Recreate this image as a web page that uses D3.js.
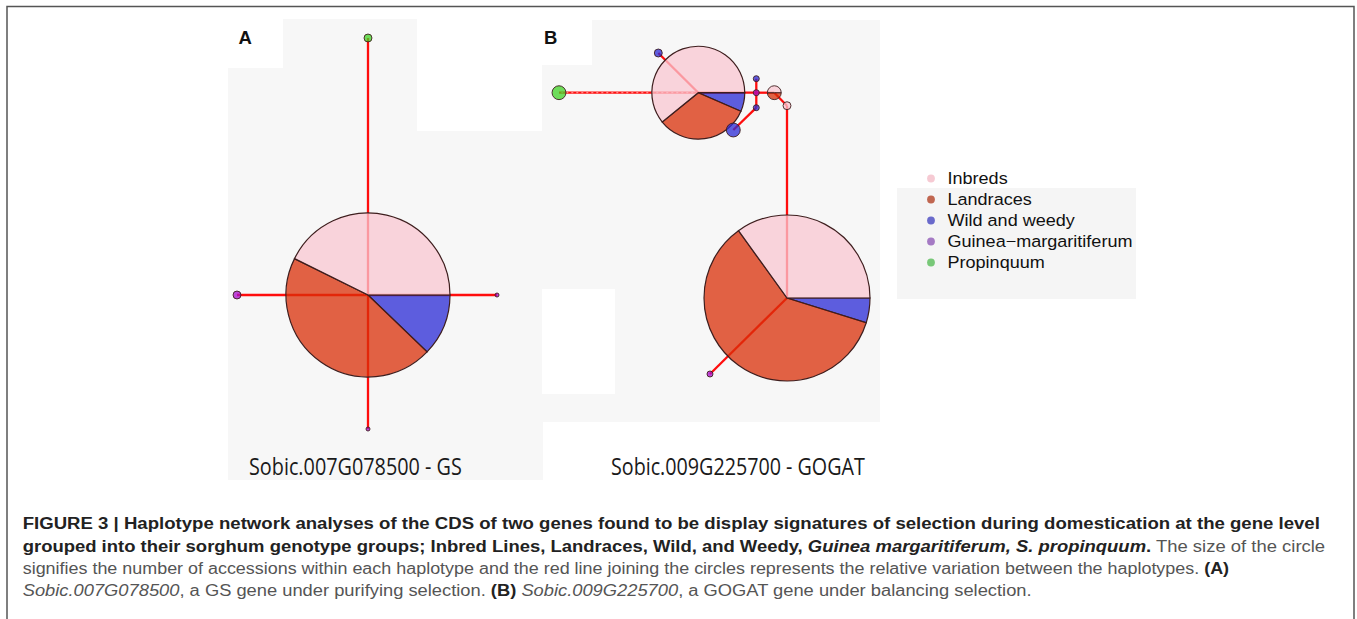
<!DOCTYPE html>
<html>
<head>
<meta charset="utf-8">
<script src="https://cdn.jsdelivr.net/npm/d3@7"></script>
<style>
  html, body { margin: 0; padding: 0; background: #ffffff; }
  svg { display: block; }
</style>
</head>
<body>
<svg id="chart" width="1357" height="619"></svg>
<script>
// ---------------- DATA ----------------
// pie slice order (clockwise from east)
const categories = ["Wild", "Landraces", "Inbreds", "Guinea", "Propinquum"];
const legendKeys = ["Inbreds", "Landraces", "Wild", "Guinea", "Propinquum"];
const legendLabels = ["Inbreds", "Landraces", "Wild and weedy", "Guinea\u2212margaritiferum", "Propinquum"];

// Panel A haplotypes: layout coordinates (network units) and accession counts
const nodesA = [
  { id: "A1", x: 0,     y: 0,     Inbreds: 35, Landraces: 37, Wild: 10 },
  { id: "A2", x: 0,     y: -25.7, Propinquum: 3 },
  { id: "A3", x: -13.1, y: 0,     Guinea: 3 },
  { id: "A4", x: 12.9,  y: 0,     Guinea: 1 },
  { id: "A5", x: 0,     y: 13.4,  Guinea: 1 }
];
const edgesA = [
  { s: "A1", t: "A2", steps: 0 },
  { s: "A1", t: "A3", steps: 0 },
  { s: "A1", t: "A4", steps: 0 },
  { s: "A1", t: "A5", steps: 0 }
];

// Panel B haplotypes
const nodesB = [
  { id: "B1",  x: 0,      y: 0,      Inbreds: 29, Landraces: 50, Wild: 4 },
  { id: "B2",  x: -8.87,  y: -20.53, Inbreds: 28, Landraces: 15, Wild: 3 },
  { id: "B3",  x: -22.8,  y: -20.53, Propinquum: 6 },
  { id: "B4",  x: -12.87, y: -24.5,  Wild: 3 },
  { id: "B5",  x: -3.07,  y: -20.53, Guinea: 2 },
  { id: "B6",  x: -3.07,  y: -21.93, Wild: 2 },
  { id: "B7",  x: -3.07,  y: -19.03, Wild: 2 },
  { id: "B8",  x: -1.27,  y: -20.53, Inbreds: 3, Landraces: 3 },
  { id: "B9",  x: 0,      y: -19.23, Inbreds: 3 },
  { id: "B10", x: -5.37,  y: -16.8,  Wild: 6 },
  { id: "B11", x: -7.7,   y: 7.6,    Guinea: 2 }
];
const edgesB = [
  { s: "B2", t: "B3", steps: 1 },
  { s: "B2", t: "B4", steps: 0 },
  { s: "B2", t: "B5", steps: 0 },
  { s: "B5", t: "B6", steps: 0 },
  { s: "B5", t: "B7", steps: 0 },
  { s: "B5", t: "B8", steps: 0 },
  { s: "B7", t: "B10", steps: 0 },
  { s: "B8", t: "B9", steps: 0 },
  { s: "B9", t: "B1", steps: 0 },
  { s: "B1", t: "B11", steps: 0 }
];

const panelLetters = ["A", "B"];
const geneLabels = ["Sobic.007G078500 - GS", "Sobic.009G225700 - GOGAT"];

// ---------------- STYLE ----------------
const nodeColors = {
  Inbreds: "rgb(250,199,210)",
  Landraces: "rgb(218,47,8)",
  Wild: "rgb(42,42,214)",
  Guinea: "rgb(168,12,206)",
  Propinquum: "rgb(64,211,38)"
};
const legendColors = {
  Inbreds: "#f6cad3",
  Landraces: "#c06650",
  Wild: "#6a6acb",
  Guinea: "#a57ac4",
  Propinquum: "#78c878"
};

const svg = d3.select("#chart");
const bgGray = "#f7f7f7";

// background patches (scanned figure look)
const g0 = svg.append("g");
[[283,19,134,50],[228,68,315,412],[592,20,288,46],[541,65,339,357]].forEach(r =>
  g0.append("rect").attr("x", r[0]).attr("y", r[1]).attr("width", r[2]).attr("height", r[3]).attr("fill", bgGray));
[[417,19,125,112],[542,289,73,105]].forEach(r =>
  g0.append("rect").attr("x", r[0]).attr("y", r[1]).attr("width", r[2]).attr("height", r[3]).attr("fill", "#ffffff"));
g0.append("rect").attr("x", 897).attr("y", 188).attr("width", 239).attr("height", 111).attr("fill", "#f5f5f5");

// frame
svg.append("path").attr("d", "M7,619 V6.5 H1354 V619")
  .attr("fill", "none").attr("stroke", "#555").attr("stroke-width", 1.5);

// ---------------- NETWORKS ----------------
const rScale = d3.scaleLinear().domain([1, 82]).range([2, 82]);
const pie = d3.pie().sort(null).value(d => d.v)
  .startAngle(Math.PI / 2).endAngle(Math.PI / 2 + 2 * Math.PI);

function drawNetwork(nodes, edges, xs, ys) {
  const g = svg.append("g");
  const byId = new Map(nodes.map(n => [n.id, n]));
  // edges
  edges.forEach(e => {
    const a = byId.get(e.s), b = byId.get(e.t);
    g.append("line")
      .attr("x1", xs(a.x)).attr("y1", ys(a.y)).attr("x2", xs(b.x)).attr("y2", ys(b.y))
      .attr("stroke", "#ff0d0d").attr("stroke-width", 2.3);
    if (e.steps > 0) {
      g.append("line")
        .attr("x1", xs(a.x)).attr("y1", ys(a.y)).attr("x2", xs(b.x)).attr("y2", ys(b.y))
        .attr("stroke", "#ffb3b3").attr("stroke-width", 0.9).attr("stroke-dasharray", "2 3");
    }
  });
  // nodes
  nodes.forEach(n => {
    const slices = categories.map(c => ({ k: c, v: n[c] || 0 })).filter(d => d.v > 0);
    const total = d3.sum(slices, d => d.v);
    const r = rScale(total);
    const ng = g.append("g").attr("transform", `translate(${xs(n.x)},${ys(n.y)})`);
    const arc = d3.arc().innerRadius(0).outerRadius(r);
    ng.selectAll("path").data(pie(slices)).join("path")
      .attr("d", arc)
      .attr("fill", d => nodeColors[d.data.k])
      .attr("fill-opacity", 0.75)
      .attr("stroke", "#3e1e1e")
      .attr("stroke-width", total > 20 ? 1.2 : 0.9);
  });
}

const xA = d3.scaleLinear().domain([-15, 15]).range([218, 518]);
const yA = d3.scaleLinear().domain([-26, 14]).range([35, 435]);
drawNetwork(nodesA, edgesA, xA, yA);

const xB = d3.scaleLinear().domain([-25, 10]).range([537, 887]);
const yB = d3.scaleLinear().domain([-26, 10]).range([38, 398]);
drawNetwork(nodesB, edgesB, xB, yB);

// ---------------- TEXT ----------------
function fit(sel, x, y, w) {
  const n = sel.node().getComputedTextLength();
  sel.attr("transform", `translate(${x},${y}) scale(${w / n},1)`);
  return w / n;
}

// panel letters
[[238.5, 44], [544, 44]].forEach((p, i) => {
  svg.append("text").attr("x", p[0]).attr("y", p[1])
    .attr("font-family", "Liberation Sans, Arial, sans-serif")
    .attr("font-weight", "bold").attr("font-size", 18.5).attr("fill", "#111")
    .text(panelLetters[i]);
});

// gene labels
[[249, 475, 213], [611, 475, 254]].forEach((p, i) => {
  const t = svg.append("text").attr("x", 0).attr("y", 0)
    .attr("font-family", "Open Sans, sans-serif")
    .attr("font-size", 23.5).attr("fill", "#1a1a1a")
    .text(geneLabels[i]);
  fit(t, p[0], p[1], p[2]);
});

// legend
const leg = svg.append("g");
const legY = [178.5, 199.5, 220.5, 241.5, 262.5];
const legTexts = [];
legendKeys.forEach((k, i) => {
  leg.append("circle").attr("cx", 931).attr("cy", legY[i]).attr("r", 3.9)
    .attr("fill", legendColors[k]);
  legTexts.push(leg.append("text").attr("x", 0).attr("y", 0)
    .attr("font-family", "Liberation Sans, Arial, sans-serif")
    .attr("font-size", 16.6).attr("fill", "#111")
    .text(legendLabels[i]));
});
const legScale = 185 / legTexts[3].node().getComputedTextLength();
legTexts.forEach((t, i) =>
  t.attr("transform", `translate(947.5,${legY[i] + 5.9}) scale(${legScale},1)`));

// caption
const capFont = "Liberation Sans, Arial, sans-serif";
const capSize = 15.6;
const bold = "#222", reg = "#555";
const captionLines = [
  [{ t: "FIGURE 3 | Haplotype network analyses of the CDS of two genes found to be display signatures of selection during domestication at the gene level", b: true }],
  [{ t: "grouped into their sorghum genotype groups; Inbred Lines, Landraces, Wild, and Weedy, ", b: true },
   { t: "Guinea margaritiferum, S. propinquum", b: true, i: true },
   { t: ".", b: true },
   { t: " The size of the circle" }],
  [{ t: "signifies the number of accessions within each haplotype and the red line joining the circles represents the relative variation between the haplotypes. " },
   { t: "(A)", b: true }],
  [{ t: "Sobic.007G078500", i: true },
   { t: ", a GS gene under purifying selection. " },
   { t: "(B)", b: true },
   { t: " " },
   { t: "Sobic.009G225700", i: true },
   { t: ", a GOGAT gene under balancing selection." }]
];
const capY = [529.3, 551.7, 574, 596];
const capW = [1297, 1302.5, 1206.5, null];
let scales = [];
captionLines.forEach((parts, li) => {
  const t = svg.append("text").attr("x", 0).attr("y", 0)
    .attr("font-family", capFont).attr("font-size", capSize)
    .style("white-space", "pre");
  parts.forEach(p => {
    t.append("tspan")
      .attr("font-weight", p.b ? "bold" : "normal")
      .attr("font-style", p.i ? "italic" : "normal")
      .attr("fill", p.b ? bold : reg)
      .text(p.t);
  });
  if (capW[li]) {
    scales.push(fit(t, 22.7, capY[li], capW[li]));
  } else {
    const s = d3.mean(scales);
    t.attr("transform", `translate(22.7,${capY[li]}) scale(${s},1)`);
  }
});
</script>
</body>
</html>
